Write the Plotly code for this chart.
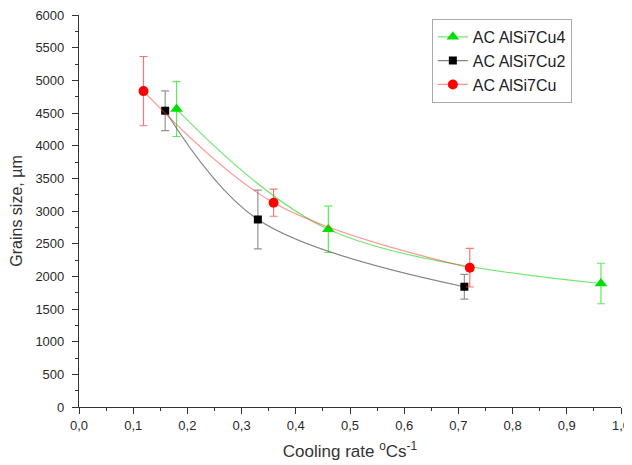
import plotly.graph_objects as go

# Data
names = ["AC AlSi7Cu4", "AC AlSi7Cu2", "AC AlSi7Cu"]

x_cu4 = [0.18, 0.46, 0.963]
y_cu4 = [4560, 2720, 1890]
e_cu4 = [420, 355, 310]

x_cu2 = [0.159, 0.33, 0.711]
y_cu2 = [4535, 2870, 1841]
e_cu2 = [305, 450, 190]

x_cu = [0.119, 0.359, 0.721]
y_cu = [4835, 3127, 2132]
e_cu = [530, 207, 295]

x_ticks = [0, 0.1, 0.2, 0.3, 0.4, 0.5, 0.6, 0.7, 0.8, 0.9, 1.0]
y_ticks = list(range(0, 6001, 500))

series = [
    (names[0], x_cu4, y_cu4, e_cu4, "#00e000", "rgba(0,210,0,0.55)", "rgba(40,230,40,0.75)", "triangle-up", 11),
    (names[1], x_cu2, y_cu2, e_cu2, "#000000", "rgba(90,90,90,0.75)", "rgba(120,120,120,0.8)", "square", 8),
    (names[2], x_cu, y_cu, e_cu, "#ff0000", "rgba(255,60,60,0.55)", "rgba(255,70,70,0.75)", "circle", 10),
]

fig = go.Figure()
for name, xs, ys, es, mc, lc, ec, sym, sz in series:
    fig.add_trace(go.Scatter(
        x=xs, y=ys, name=name, mode="lines+markers",
        line=dict(color=lc, width=1.2, shape="spline", smoothing=1.0),
        marker=dict(color=mc, symbol=sym, size=sz, line=dict(width=0)),
        error_y=dict(type="data", array=es, visible=True, color=ec, thickness=1.2, width=4),
    ))

FONT = "Liberation Sans, Arial, sans-serif"
axis_font = dict(family=FONT, size=13, color="#2a2a2a")
# page body adds an 8px margin, so the figure is sized 8px smaller
fig.update_layout(
    width=624, height=457,
    margin=dict(l=71, r=11, t=7, b=58),
    paper_bgcolor="white", plot_bgcolor="white",
    separators=", ",
    showlegend=True,
    legend=dict(
        x=0.651, y=0.99, xanchor="left", yanchor="top",
        bordercolor="#aaaaaa", borderwidth=1, bgcolor="white",
        font=dict(family=FONT, size=16, color="#222222"),
        itemwidth=30, tracegroupgap=0,
    ),
    xaxis=dict(
        range=[0, 1.0], tickvals=x_ticks, tickformat=".1f", automargin=False,
        ticklabeloverflow="allow",
        showgrid=False, zeroline=False, showline=True, linecolor="#333333", linewidth=1.2,
        ticks="outside", ticklen=6, tickwidth=1.2, tickcolor="#333333",
        minor=dict(ticks="outside", ticklen=3, tickwidth=1, tickcolor="#333333", dtick=0.05),
        tickfont=axis_font,
        title=dict(text="Cooling rate <sup>o</sup>Cs<sup>-1</sup>",
                   font=dict(family=FONT, size=17, color="#333333"), standoff=13),
    ),
    yaxis=dict(
        range=[0, 6000], tickvals=y_ticks, automargin=False, ticklabelstandoff=5,
        ticklabeloverflow="allow",
        showgrid=False, zeroline=False, showline=True, linecolor="#333333", linewidth=1.2,
        ticks="outside", ticklen=6, tickwidth=1.2, tickcolor="#333333",
        minor=dict(ticks="outside", ticklen=3, tickwidth=1, tickcolor="#333333", dtick=250),
        tickfont=axis_font,
        title=dict(text="Grains size, µm",
                   font=dict(family=FONT, size=16, color="#333333"), standoff=8),
    ),
)

fig.write_html("out.html")
